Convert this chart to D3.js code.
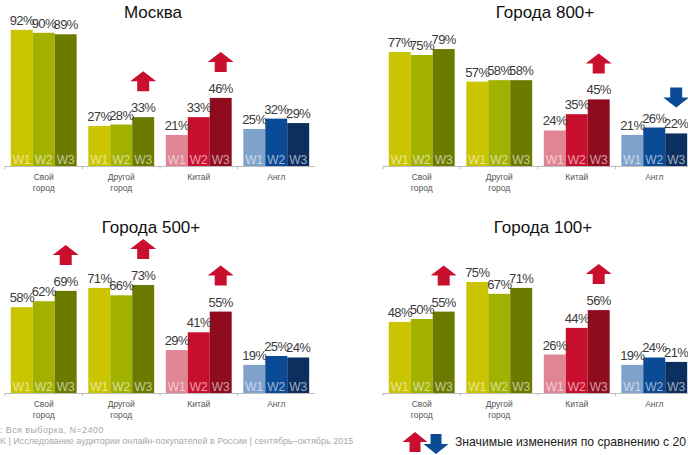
<!DOCTYPE html>
<html>
<head>
<meta charset="utf-8">
<script src="https://cdn.jsdelivr.net/npm/d3@7"></script>
<style>
  html, body { margin: 0; padding: 0; background: #fff; }
  svg { display: block; font-family: "Liberation Sans", Arial, sans-serif; }
</style>
</head>
<body>
<svg id="chart" width="688" height="455"></svg>
<script>
// Audience shares by purchase destination, three waves
const categories = ["Свой город", "Другой город", "Китай", "Англ"];
const categoryLines = [["Свой", "город"], ["Другой", "город"], ["Китай"], ["Англ"]];
const waves = ["W1", "W2", "W3"];

const moscowValues    = [[92, 90, 89], [27, 28, 33], [21, 33, 46], [25, 32, 29]];
const cities800Values = [[77, 75, 79], [57, 58, 58], [24, 35, 45], [21, 26, 22]];
const cities500Values = [[58, 62, 69], [71, 66, 73], [29, 41, 55], [19, 25, 24]];
const cities100Values = [[48, 50, 55], [75, 67, 71], [26, 44, 56], [19, 24, 21]];

// significant change W3 vs W1: 1 = up, -1 = down, 0 = none
const moscowShifts    = [0, 1, 1, 0];
const cities800Shifts = [0, 0, 1, -1];
const cities500Shifts = [1, 1, 1, 0];
const cities100Shifts = [1, 0, 1, 0];

const panelTitles = ["Москва", "Города 800+", "Города 500+", "Города 100+"];

const footnoteBase = ": Вся выборка, N=2400";
const footnoteSource = "K | Исследование аудитории онлайн-покупателей в России | сентябрь–октябрь 2015";
const legendText = "Значимые изменения по сравнению с 20";

// palette per category (W1, W2, W3)
const olive = ["#cbc400", "#a2b100", "#6c7b00"];
const reds = ["#e08593", "#c8102e", "#8e0c1d"];
const blues = ["#7fa2cb", "#0b4a95", "#0c2f5f"];
const categoryColors = [olive, olive, reds, blues];
const upColor = "#c8102e";
const downColor = "#0b4a95";

const svg = d3.select("#chart");

const panels = [
  { title: panelTitles[0], values: moscowValues,    shifts: moscowShifts,    x0: 5,   x1: 315, base: 166, titleX: 153, titleY: 18 },
  { title: panelTitles[1], values: cities800Values, shifts: cities800Shifts, x0: 383, x1: 693, base: 166, titleX: 545, titleY: 18 },
  { title: panelTitles[2], values: cities500Values, shifts: cities500Shifts, x0: 5,   x1: 315, base: 393, titleX: 151, titleY: 233 },
  { title: panelTitles[3], values: cities100Values, shifts: cities100Shifts, x0: 383, x1: 693, base: 393, titleX: 543, titleY: 233 }
];

// block arrow pointing up (dir=1) or down (dir=-1), anchored at its lower edge
function arrowPath(cx, yBase, dir, w = 26, h = 20, headH = 10, stemW = 12) {
  const top = yBase - h;
  if (dir > 0) {
    return `M${cx - stemW / 2},${yBase} L${cx - stemW / 2},${top + headH} L${cx - w / 2},${top + headH}
            L${cx},${top} L${cx + w / 2},${top + headH} L${cx + stemW / 2},${top + headH} L${cx + stemW / 2},${yBase} Z`;
  }
  return `M${cx - stemW / 2},${top} L${cx + stemW / 2},${top} L${cx + stemW / 2},${yBase - headH}
          L${cx + w / 2},${yBase - headH} L${cx},${yBase} L${cx - w / 2},${yBase - headH} L${cx - stemW / 2},${yBase - headH} Z`;
}

panels.forEach(p => {
  const g = svg.append("g");

  const x = d3.scaleBand().domain(categories).range([p.x0, p.x1]).paddingInner(0.15).paddingOuter(0.075);
  const xw = d3.scaleBand().domain(waves).range([0, x.bandwidth()]);
  const y = d3.scaleLinear().domain([0, 100]).range([p.base, p.base - 148]);

  g.append("text")
    .attr("x", p.titleX).attr("y", p.titleY)
    .attr("text-anchor", "middle")
    .attr("font-size", 17).attr("fill", "#111")
    .text(p.title);

  // baseline axis with group ticks
  g.append("line")
    .attr("x1", p.x0).attr("x2", p.x1)
    .attr("y1", p.base + 0.5).attr("y2", p.base + 0.5)
    .attr("stroke", "#bdbdbd").attr("stroke-width", 1);
  const tickXs = [p.x0].concat(categories.slice(1).map(c => x(c) - x.step() * x.paddingInner() / 2));
  g.selectAll("line.tick").data(tickXs).enter().append("line")
    .attr("class", "tick")
    .attr("x1", d => d).attr("x2", d => d)
    .attr("y1", p.base).attr("y2", p.base + 3)
    .attr("stroke", "#bdbdbd");

  categories.forEach((cat, ci) => {
    const gx = x(cat);
    const vals = p.values[ci];
    const cg = g.append("g").attr("transform", `translate(${gx},0)`);

    cg.selectAll("rect").data(vals).enter().append("rect")
      .attr("x", (d, i) => xw(waves[i]))
      .attr("width", xw.bandwidth())
      .attr("y", d => y(d))
      .attr("height", d => p.base - y(d))
      .attr("fill", (d, i) => categoryColors[ci][i]);

    cg.selectAll("text.wave").data(waves).enter().append("text")
      .attr("class", "wave")
      .attr("x", w => xw(w) + xw.bandwidth() / 2)
      .attr("y", p.base - 2)
      .attr("text-anchor", "middle")
      .attr("font-size", 12)
      .attr("fill", "rgba(255,255,255,0.6)")
      .text(w => w);

    cg.selectAll("text.val").data(vals).enter().append("text")
      .attr("class", "val")
      .attr("x", (d, i) => xw(waves[i]) + xw.bandwidth() / 2)
      .attr("y", d => y(d) - 5)
      .attr("text-anchor", "middle")
      .attr("font-size", 13)
      .attr("letter-spacing", -0.6)
      .attr("fill", "#3a3a3a")
      .text(d => d + "%");

    categoryLines[ci].forEach((line, li) => {
      cg.append("text")
        .attr("x", x.bandwidth() / 2)
        .attr("y", p.base + 14 + li * 11)
        .attr("text-anchor", "middle")
        .attr("font-size", 8.5)
        .attr("fill", "#555")
        .text(line);
    });

    const s = p.shifts[ci];
    if (s !== 0) {
      const cx = xw("W3") + xw.bandwidth() / 2;
      const yb = y(vals[2]) - 26;
      cg.append("path")
        .attr("d", arrowPath(cx, yb, s))
        .attr("fill", s > 0 ? upColor : downColor);
    }
  });
});

// footnotes
svg.append("text").attr("x", 0).attr("y", 433)
  .attr("font-size", 9).attr("letter-spacing", 0.4).attr("fill", "#a8a8a8").text(footnoteBase);
svg.append("text").attr("x", 0).attr("y", 444)
  .attr("font-size", 9).attr("fill", "#a8a8a8").text(footnoteSource);

// legend
svg.append("path").attr("d", arrowPath(415, 452, 1, 25, 20, 10, 11)).attr("fill", upColor);
svg.append("path").attr("d", arrowPath(436, 454, -1, 25, 20, 10, 11)).attr("fill", downColor);
svg.append("text").attr("x", 455).attr("y", 446)
  .attr("font-size", 12.2).attr("fill", "#222").text(legendText);
</script>
</body>
</html>
